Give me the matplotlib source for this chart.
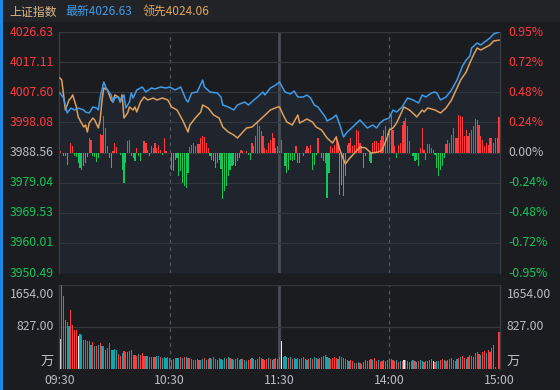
import matplotlib
matplotlib.use('Agg')
import matplotlib.pyplot as plt
from matplotlib.patches import Rectangle
import numpy as np

plt.rcParams['font.family'] = ['Noto Sans CJK SC', 'DejaVu Sans']

# ---------------- data ----------------
index_name = '上证指数'
prev_close = 3988.56
last_price = 4026.63
lead_price = 4024.06
price_ticks = [4026.63, 4017.11, 4007.60, 3998.08, 3988.56, 3979.04, 3969.53, 3960.01, 3950.49]
pct_labels = ['0.95%', '0.72%', '0.48%', '0.24%', '0.00%', '-0.24%', '-0.48%', '-0.72%', '-0.95%']
time_labels = ['09:30', '10:30', '11:30', '14:00', '15:00']
time_pos = [0, 60, 120, 180, 240]
vol_ticks = [1654.00, 827.00]
vol_unit = '万'

price_t = [0, 2, 4, 6, 8, 10, 13, 14, 16, 18,
           20, 21, 22, 24, 25, 26, 28, 29, 30, 32,
           33, 35, 36, 38, 39, 40, 42, 45, 47, 50,
           52, 55, 58, 60, 63, 66, 69, 70, 72, 75,
           78, 79, 82, 86, 88, 89, 92, 95, 97, 101,
           103, 106, 108, 111, 112, 115, 118, 120, 123, 126,
           128, 130, 133, 135, 137, 139, 141, 143, 145, 146,
           149, 151, 153, 155, 157, 160, 164, 165, 168, 171,
           173, 175, 177, 180, 182, 184, 187, 190, 193, 196,
           198, 200, 203, 205, 206, 208, 211, 214, 217, 220,
           222, 224, 225, 228, 230, 232, 235, 237, 240]
price_v = [4007.36, 4005.78, 4001.04, 4002.62, 4001.99, 4002.62, 4001.99, 4001.36, 4001.04, 4002.94,
           4002.62, 4001.99, 4006.09, 4010.83, 4009.25, 4008.31, 4006.73, 4004.51, 4005.78, 4006.09,
           4004.51, 4006.73, 4002.62, 4004.51, 4007.36, 4005.78, 4008.31, 4009.25, 4007.67, 4008.94,
           4008.62, 4009.25, 4008.94, 4009.25, 4008.31, 4009.25, 4005.15, 4004.51, 4007.36, 4007.67,
           4011.47, 4009.25, 4007.67, 4007.36, 4006.09, 4003.57, 4002.94, 4001.99, 4003.57, 4004.51,
           4003.57, 4005.15, 4006.09, 4007.67, 4006.73, 4008.94, 4009.89, 4010.83, 4007.67, 4007.04,
           4007.99, 4006.09, 4006.09, 4006.73, 4005.78, 4003.57, 4002.94, 4001.36, 3999.78, 3998.51,
           3999.46, 4000.41, 3997.25, 3993.46, 3995.04, 3996.62, 3998.83, 3998.20, 3996.30, 3997.25,
           3996.30, 3997.88, 3998.83, 3999.46, 4001.99, 4001.36, 4002.94, 4005.78, 4005.15, 4004.20,
           4006.73, 4006.09, 4007.36, 4007.67, 4007.36, 4005.15, 4006.09, 4008.31, 4011.47, 4015.89,
           4017.78, 4019.05, 4021.58, 4023.15, 4022.52, 4023.47, 4024.73, 4026.00, 4026.63]

lead_t = [0, 1, 3, 5, 6, 7, 9, 10, 13, 14,
          15, 16, 18, 19, 21, 22, 23, 24, 26, 28,
          29, 30, 32, 33, 34, 35, 37, 38, 40, 41,
          42, 44, 46, 48, 51, 53, 56, 59, 61, 64,
          67, 70, 71, 74, 77, 78, 81, 84, 87, 89,
          92, 95, 97, 100, 102, 105, 108, 111, 115, 119,
          120, 122, 124, 127, 130, 131, 135, 138, 140, 143,
          146, 149, 150, 151, 153, 156, 158, 161, 164, 167,
          170, 174, 176, 179, 180, 182, 184, 186, 188, 191,
          194, 195, 198, 199, 201, 205, 208, 211, 214, 217,
          219, 222, 224, 226, 228, 230, 232, 235, 237, 240]
lead_v = [4012.10, 4011.47, 4001.99, 4005.15, 4005.78, 4006.73, 4002.94, 3999.78, 3996.62, 3997.25,
          3995.04, 3997.88, 3999.46, 3998.83, 3996.30, 3998.83, 4005.15, 4008.94, 4008.31, 4005.15,
          4004.51, 4006.73, 4006.09, 4004.51, 4006.73, 3999.46, 4001.04, 4002.94, 4001.99, 4002.94,
          4001.36, 4004.51, 4006.09, 4005.15, 4005.78, 4005.15, 4005.78, 4005.15, 4002.94, 4001.99,
          3998.83, 3995.04, 3997.25, 3999.46, 4001.36, 4003.57, 4002.62, 4000.41, 3999.46, 3996.62,
          3995.04, 3994.09, 3993.14, 3995.04, 3996.30, 3996.62, 3998.20, 3999.78, 4001.99, 4002.94,
          4002.94, 4000.41, 3998.20, 3997.25, 4000.41, 3997.88, 3999.14, 3998.20, 3996.62, 3995.67,
          3993.14, 3991.56, 3992.51, 3993.46, 3989.35, 3984.93, 3986.51, 3988.40, 3990.30, 3989.98,
          3988.40, 3988.72, 3989.35, 3993.46, 3995.67, 3996.30, 3997.88, 4000.41, 4002.94, 4001.99,
          4000.41, 3999.78, 4001.99, 4001.36, 4002.62, 4001.99, 4001.04, 4002.62, 4005.15, 4008.94,
          4011.47, 4013.99, 4016.84, 4019.36, 4021.58, 4020.94, 4021.58, 4022.52, 4023.79, 4024.06]

# buy/sell strength bars, one per minute (positive = red, negative = green)
strength = [2, 0, -3, -3, -12, 0, 10, 7, -3, -4,
            -10, -15, -17, -13, -10, -4, 15, 13, -3, -4,
            -9, -5, 19, 18, 37, 25, 7, -5, -15, 2,
            10, 6, 0, -2, -17, -30, -10, 12, 13, -3,
            -5, -8, 5, -3, -8, 0, 12, 10, 3, -3,
            7, 5, 10, 5, 8, 3, -2, 15, 2, 0,
            0, -17, -18, -7, -5, -23, -18, -30, -33, -35,
            -20, 6, 8, 10, 7, 9, 9, 15, 17, 16,
            10, 5, -3, -7, -8, -15, -10, -7, -16, -46,
            -38, -33, -23, -17, -13, -12, -13, -8, -5, 3,
            2, 0, 2, -2, -7, 10, 7, 17, 32, 27,
            22, 17, 5, 3, 10, 13, 20, 15, 5, 7,
            2,
            13, 0, -13, -20, -17, -7, -8, -7, 7,
            -10, -10, 0, -3, 3, 7, 5, 8, -17, -12,
            -2, 15, 0, -5, -8, -10, -45, -20, 7, 5,
            8, 17, 10, -42, -32, -43, -23, 8, 10, 15,
            7, 8, 23, 22, 10, 7, -15, -3, 0, -8,
            -10, 10, 12, 12, 10, 13, 17, 23, 27, 20,
            25, 38, 23, 7, -5, 8, 10, 28, 32, 35,
            27, 12, 0, -3, -8, -7, -13, 5, 25, 3,
            -7, 9, 9, 5, 3, -2, -15, -23, -17, -13,
            -5, 9, 13, 10, 18, 25, 15, 15, 38, 37,
            36, 17, 23, 17, 20, 23, 27, 34, 33, 28,
            17, 13, 7, 10, 8, 15, 15, 10, 15, 15,
            36]

# volume per minute (万)
volume = [591, 1654, 1431, 959, 925, 841, 1168, 872, 774, 774,
          656, 695, 675, 565, 577, 545, 545, 478, 526, 447,
          447, 467, 512, 453, 447, 380, 413, 512, 368, 380,
          394, 380, 301, 262, 315, 349, 329, 329, 349, 368,
          282, 282, 262, 301, 282, 315, 262, 262, 250, 236,
          236, 236, 236, 250, 250, 236, 217, 236, 217, 236,
          217, 183, 197, 217, 217, 217, 236, 217, 236, 236,
          217, 217, 197, 171, 171, 197, 183, 183, 197, 217,
          177, 197, 217, 197, 236, 197, 177, 217, 197, 177,
          217, 197, 236, 217, 197, 177, 197, 217, 177, 197,
          197, 177, 158, 177, 197, 217, 197, 177, 197, 236,
          217, 197, 177, 197, 217, 197, 177, 197, 217, 197,
          236,
          551, 236, 256, 236, 217, 236, 197, 217, 197,
          217, 197, 217, 236, 197, 177, 197, 217, 197, 236,
          217, 197, 217, 236, 256, 276, 236, 217, 197, 217,
          236, 217, 197, 256, 236, 217, 197, 177, 158, 177,
          158, 118, 118, 138, 118, 98, 138, 177, 158, 177,
          197, 177, 217, 158, 177, 138, 158, 177, 158, 177,
          197, 197, 177, 158, 177, 138, 158, 158, 177, 177,
          158, 138, 158, 177, 158, 138, 158, 177, 158, 138,
          158, 158, 177, 197, 158, 138, 158, 158, 177, 197,
          177, 158, 177, 197, 217, 177, 158, 197, 217, 236,
          256, 217, 197, 236, 276, 256, 236, 315, 335, 295,
          276, 335, 354, 315, 374, 335, 413, 473, 39, 0,
          728]

# direction of each volume bar: r = up, g = down, w = flat
vol_dir = ('wrggggrrrr' 'wggggrrgrg' 'rgrgrgrrgg' 'ggrrgrrgrg' 'rrrgrrrgrr'
           'rgrggrgggr' 'rggrggrgrg' 'rrrrgrrggr' 'grgrrrgrgg' 'grgrgrrgrg'
           'rggrrgrgrr' 'grrrgrgrrg' 'r'
           'wrggrgrgg' 'rgrrggrgrg' 'grrgrgggrr' 'rrggggrrgr' 'rgrgrrggrg'
           'rgrrgrrggr' 'rgrrgrgrwg' 'grrgrgrggr' 'rgrrwrggrr' 'grrrgrrgrg'
           'rrgrrrgrrr' 'grrgrrrgrr' 'r')

# ---------------- style ----------------
BG = '#1b1c20'
HEADER_BG = '#222327'
FILL = '#1f242d'
GRID = '#34363b'
SPINE = '#3a3c41'
RED = '#ff3b3f'
GREEN = '#17c65a'
TEAL = '#14a6aa'
GRAY_TXT = '#b9bdc4'
BLUE = '#3f9be8'
ORANGE = '#dfa05a'

W, H = 560, 390
fig = plt.figure(figsize=(W / 100, H / 100), dpi=100, facecolor=BG)


def frame(x0, y0, x1, y1):
    return [x0 / W, 1 - y1 / H, (x1 - x0) / W, (y1 - y0) / H]


fig.patches.append(Rectangle((0, 1 - 22 / H), 1, 22 / H, transform=fig.transFigure,
                             facecolor=HEADER_BG, edgecolor='none', zorder=0))
fig.patches.append(Rectangle((0, 0), 2.5 / W, 1, transform=fig.transFigure,
                             facecolor='#1e88e5', edgecolor='none', zorder=5))

ax = fig.add_axes(frame(59, 32, 500, 273))
axv = fig.add_axes(frame(59, 285, 500, 369))

idx = np.arange(len(strength))
strength_arr = np.array(strength, dtype=float)

for a in (ax, axv):
    a.set_facecolor(BG)
    a.set_xlim(-0.5, 240.5)
    a.set_xticks([])
    a.set_yticks([])
    for s in ('top', 'bottom'):
        a.spines[s].set_visible(False)
    for s in ('left', 'right'):
        a.spines[s].set_color(SPINE)
        a.spines[s].set_linewidth(1.0)
    a.axvline(60, color='#54575d', lw=0.9, ls=(0, (3, 3)), zorder=1)
    a.axvline(120, color='#4a4d53', lw=2.0, zorder=1)
    a.axvline(180, color='#54575d', lw=0.9, ls=(0, (3, 3)), zorder=1)

# main panel
ylo, yhi = price_ticks[-1], price_ticks[0]
ax.set_ylim(ylo, yhi)
ax.fill_between(price_t, price_v, ylo, color=FILL, lw=0, zorder=0.5)
for p in price_ticks:
    ax.axhline(p, color=GRID, lw=0.9, zorder=1)

unit = (yhi - ylo) / 241.0
up = strength_arr > 0
down = strength_arr < 0
ax.bar(idx[up], strength_arr[up] * unit, bottom=prev_close, width=0.65,
       color=RED, edgecolor='none', lw=0, zorder=2)
ax.bar(idx[down], strength_arr[down] * unit, bottom=prev_close, width=0.65,
       color=GREEN, edgecolor='none', lw=0, zorder=2)

ax.plot(lead_t, lead_v, color=ORANGE, lw=1.1, zorder=3)
ax.plot(price_t, price_v, color=BLUE, lw=1.1, zorder=4)

ytr = ax.get_yaxis_transform()
for p, lab in zip(price_ticks, pct_labels):
    if p > prev_close + 1e-6:
        c = RED
    elif p < prev_close - 1e-6:
        c = GREEN
    else:
        c = GRAY_TXT
    ax.text(-5 / 441, p, f'{p:.2f}', transform=ytr, ha='right', va='center',
            color=c, fontsize=8.8, clip_on=False)
    ax.text(1 + 8 / 441, p, lab, transform=ytr, ha='left', va='center',
            color=c, fontsize=8.8, clip_on=False)

# volume panel
axv.set_ylim(0, vol_ticks[0])
for v in vol_ticks:
    axv.axhline(v, color=GRID, lw=0.9, zorder=1)
vidx = np.arange(len(volume))
vol_arr = np.array(volume, dtype=float)
dirs = np.array(list(vol_dir))
for code, col in (('r', RED), ('g', TEAL), ('w', '#eeeeee')):
    m = dirs == code
    axv.bar(vidx[m], vol_arr[m], width=0.65, color=col, edgecolor='none', lw=0, zorder=2)

vtr = axv.get_yaxis_transform()
vol_label_y = [vol_ticks[0] - 9 / 84 * vol_ticks[0], vol_ticks[1]]
for yv, v in zip(vol_label_y, vol_ticks):
    axv.text(-5 / 441, yv, f'{v:.2f}', transform=vtr, ha='right', va='center',
             color=GRAY_TXT, fontsize=8.8, clip_on=False)
    axv.text(1 + 7 / 441, yv, f'{v:.2f}', transform=vtr, ha='left', va='center',
             color=GRAY_TXT, fontsize=8.8, clip_on=False)
unit_y = vol_ticks[0] * (369 - 361.5) / 84
axv.text(-5 / 441, unit_y, vol_unit, transform=vtr, ha='right', va='center',
         color=GRAY_TXT, fontsize=9.5, clip_on=False)
axv.text(1 + 7 / 441, unit_y, vol_unit, transform=vtr, ha='left', va='center',
         color=GRAY_TXT, fontsize=9.5, clip_on=False)

xtr = axv.get_xaxis_transform()
for t, lab in zip(time_pos, time_labels):
    axv.text(t, -(380 - 369) / 84, lab, transform=xtr, ha='center', va='center',
             color=GRAY_TXT, fontsize=8.8, clip_on=False)

# header
fig.text(9 / W, 1 - 12 / H, index_name, color='#d9ba88', fontsize=8.6, va='center', ha='left')
fig.text(65 / W, 1 - 12 / H, f'最新{last_price:.2f}', color=BLUE, fontsize=8.6, va='center', ha='left')
fig.text(143 / W, 1 - 12 / H, f'领先{lead_price:.2f}', color='#e3a55c', fontsize=8.6, va='center', ha='left')

fig.savefig('out.png', dpi=100, facecolor=BG)
